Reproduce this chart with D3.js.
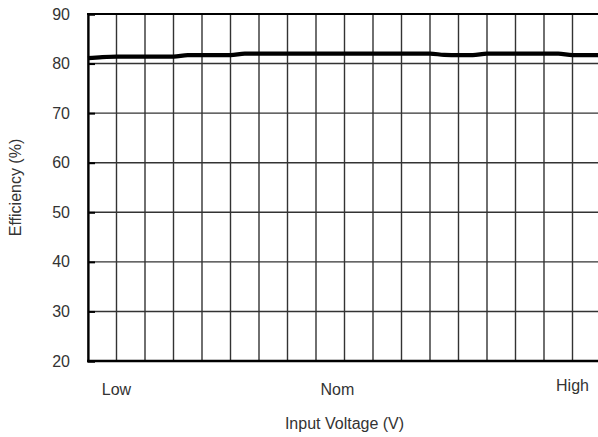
<!DOCTYPE html>
<html><head><meta charset="utf-8">
<script src="https://cdn.jsdelivr.net/npm/d3@7"></script>
<style>body{margin:0;background:#fff}svg{display:block}text{font-family:"Liberation Sans",Arial,sans-serif;fill:#333}</style>
</head><body><svg id="c" width="598" height="437"></svg>
<script>
// x positions in half-grid steps (0..36), grid lines every 2 steps
const xSteps = d3.range(0, 37);
const efficiency = [81.1,81.3,81.4,81.4,81.4,81.4,81.4,81.7,81.7,81.7,81.7,82.0,82.0,82.0,82.0,82.0,82.0,82.0,82.0,82.0,82.0,82.0,82.0,82.0,82.0,81.75,81.7,81.7,82.0,82.0,82.0,82.0,82.0,82.0,81.7,81.7,81.7];
const yTicks = [20,30,40,50,60,70,80,90];
const xGrid = d3.range(0, 37, 2);
const xTickLabels = ["Low","Nom","High"];
const xTickPos = [2, 17.5, 34];

const svg = d3.select("#c");
const L=88, T=14, R=601, B=361;
const x = d3.scaleLinear().domain([0,36]).range([L,R]);
const y = d3.scaleLinear().domain([20,90]).range([B,T]);

// horizontal gridlines
svg.append("g").selectAll("line").data(yTicks).join("line")
  .attr("x1",L).attr("x2",598).attr("y1",d=>y(d)).attr("y2",d=>y(d))
  .attr("stroke","#333").attr("stroke-width",1.4);
// vertical gridlines
svg.append("g").selectAll("line").data(xGrid).join("line")
  .attr("x1",d=>x(d)).attr("x2",d=>x(d)).attr("y1",T).attr("y2",B)
  .attr("stroke","#333").attr("stroke-width",1.4);

// y axis
const ya = svg.append("g").attr("transform",`translate(${L},0)`)
  .call(d3.axisLeft(y).tickValues(yTicks).tickSize(-7).tickPadding(18));
ya.select(".domain").attr("stroke","#000").attr("stroke-width",2.2);
ya.selectAll(".tick line").attr("stroke","#000").attr("stroke-width",2);
ya.selectAll(".tick text").attr("font-size",16).attr("fill","#333")
  .attr("font-family","Liberation Sans, Arial, sans-serif");

// top and bottom borders
svg.append("line").attr("x1",L-1).attr("x2",598).attr("y1",T).attr("y2",T).attr("stroke","#000").attr("stroke-width",2.2);
svg.append("line").attr("x1",L-1).attr("x2",598).attr("y1",B).attr("y2",B).attr("stroke","#000").attr("stroke-width",2.4);

// x labels
svg.append("g").selectAll("text").data(xTickLabels).join("text")
  .attr("x",(d,i)=>x(xTickPos[i])).attr("y",(d,i)=> i===2 ? 391 : 395)
  .attr("text-anchor","middle").attr("font-size",16).text(d=>d);

// data line
svg.append("path").datum(efficiency)
  .attr("fill","none").attr("stroke","#000").attr("stroke-width",4.2)
  .attr("d", d3.line().x((d,i)=>x(xSteps[i])).y(d=>y(d)).curve(d3.curveMonotoneX));

// axis titles
svg.append("text").attr("x",(L+R)/2).attr("y",429).attr("text-anchor","middle").attr("font-size",16).text("Input Voltage (V)");
svg.append("text").attr("transform",`translate(21,${(T+B)/2}) rotate(-90)`).attr("text-anchor","middle").attr("font-size",16).text("Efficiency (%)");
</script></body></html>
